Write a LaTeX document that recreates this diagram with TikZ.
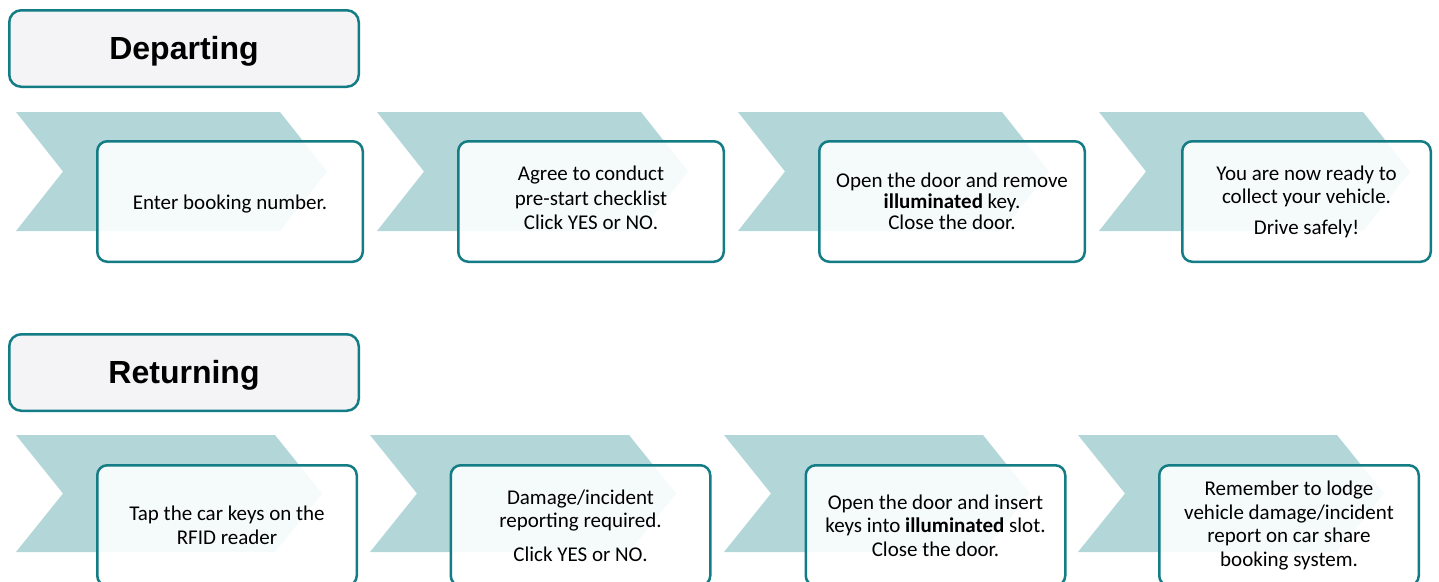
\documentclass[tikz,border=0pt]{standalone}
\usepackage{fontspec}
\setmainfont{Carlito}
\newfontfamily\headfont{Liberation Sans}
\definecolor{chev}{HTML}{B3D7D9}
\definecolor{tealb}{HTML}{137C85}
\definecolor{headfill}{HTML}{F4F4F6}
\newcommand{\shiftbox}[2]{\raisebox{#1}[\height][\depth]{#2}}
\tikzset{
  chevron/.style={fill=chev, draw=none},
  stepbox/.style={draw=tealb, line width=2.5pt, rounded corners=10pt, fill=white,
    fill opacity=0.88, text opacity=1, align=center, inner sep=0pt,
    minimum height=120.5pt, font=\fontsize{21}{23.5}\selectfont},
  headbox/.style={draw=tealb, line width=2.5pt, rounded corners=12pt, fill=headfill,
    minimum width=349.5pt, minimum height=76.5pt, inner sep=0pt,
    font=\headfont\bfseries\fontsize{32}{38}\selectfont}
}
\begin{document}
\begin{tikzpicture}[x=1pt,y=-1pt]
\useasboundingbox (0,0) rectangle (1439,581);
\clip (0,0) rectangle (1439,581);
% chevrons, top row
\foreach \cx in {16,377,738,1099}{
  \fill[chevron] (\cx,112) -- ({\cx+264},112) -- ({\cx+311},171.5) -- ({\cx+264},231)
    -- (\cx,231) -- ({\cx+47},171.5) -- cycle;
}
% chevrons, bottom row
\foreach \cx in {16,370,724,1078}{
  \fill[chevron] (\cx,435) -- ({\cx+259},435) -- ({\cx+306},493.5) -- ({\cx+259},552)
    -- (\cx,552) -- ({\cx+47},493.5) -- cycle;
}
% headers
\node[headbox] (dep) at (184,48.5) {\shiftbox{-3pt}{Departing}};
\node[headbox] (ret) at (184,372.5) {\shiftbox{-3pt}{Returning}};
% departing steps
\node[stepbox, minimum width=265.5pt] (d1) at (230,201.5) {\shiftbox{-3pt}{Enter booking number.}};
\node[stepbox, minimum width=265.5pt] (d2) at (591,201.5) {\shiftbox{1pt}{\begin{tabular}{@{}c@{}}Agree to conduct\\[1pt] pre-start checklist\\[1pt] Click YES or NO.\end{tabular}}};
\node[stepbox, minimum width=265.5pt, font=\fontsize{21}{21}\selectfont] (d3) at (952,201.5) {Open the door and remove\\ \textbf{illuminated} key.\\ Close the door.};
\node[stepbox, minimum width=248.5pt] (d4) at (1306.5,201.5) {You are now ready to\\ collect your vehicle.\\[7pt] Drive safely!};
% returning steps
\node[stepbox, minimum width=259.5pt] (r1) at (227,525.5) {Tap the car keys on the\\ RFID reader};
\node[stepbox, minimum width=259.5pt] (r2) at (580.5,525.5) {Damage/incident\\ reporting required.\\[10pt] Click YES or NO.};
\node[stepbox, minimum width=259.5pt] (r3) at (935.5,525.5) {Open the door and insert\\ keys into \textbf{illuminated} slot.\\ Close the door.};
\node[stepbox, minimum width=259.5pt] (r4) at (1289,525.5) {Remember to lodge\\ vehicle damage/incident\\ report on car share\\ booking system.};
\end{tikzpicture}
\end{document}
